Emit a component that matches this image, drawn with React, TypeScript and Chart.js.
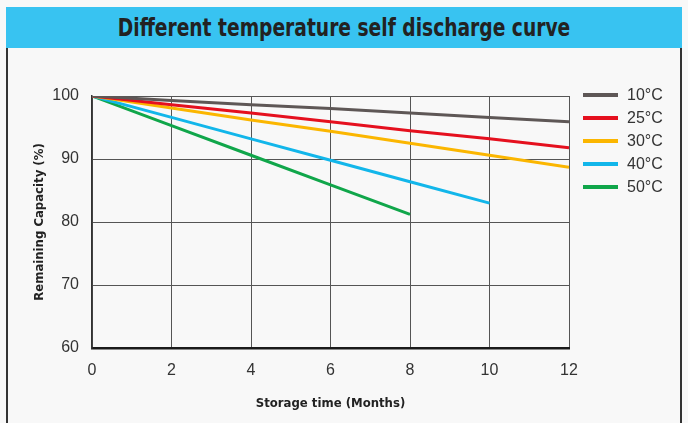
import React, { useEffect, useRef } from "react";
import { Chart, registerables } from "chart.js";

Chart.register(...registerables);

const titleText = "Different temperature self discharge curve";
const xTitle = "Storage time (Months)";
const yTitle = "Remaining Capacity (%)";

const months = [0, 2, 4, 6, 8, 10, 12];
const labels = ["10°C", "25°C", "30°C", "40°C", "50°C"];
const s10 = [100, 99.3, 98.6, 98.0, 97.3, 96.6, 95.9];
const s25 = [100, 98.6, 97.3, 95.9, 94.5, 93.2, 91.8];
const s30 = [100, 98.1, 96.2, 94.4, 92.5, 90.6, 88.7];
const s40 = [100, 96.6, 93.2, 89.8, 86.4, 83.0];
const s50 = [100, 95.3, 90.6, 85.9, 81.2];
const colors = ["#5e5756", "#e5101e", "#fbb600", "#12b6ea", "#10a64a"];
const seriesList = [s10, s25, s30, s40, s50];

const W = 688;
const H = 423;
const condensed = "'Liberation Sans Narrow', 'DejaVu Sans Condensed', sans-serif";

export default function App() {
  const ref = useRef<HTMLCanvasElement | null>(null);

  useEffect(() => {
    if (!ref.current) return;
    const chart = new Chart(ref.current, {
      type: "line",
      data: {
        datasets: seriesList.map((s, i) => ({
          label: labels[i],
          data: s.map((v, j) => ({ x: months[j], y: v })),
          borderColor: colors[i],
          backgroundColor: colors[i],
          borderWidth: 3,
          pointRadius: 0,
          tension: 0,
          fill: false,
        })),
      },
      options: {
        animation: false,
        responsive: false,
        devicePixelRatio: 1,
        layout: { padding: { top: 96, right: W - 569, left: 0, bottom: 0 } },
        plugins: { legend: { display: false }, tooltip: { enabled: false } },
        scales: {
          x: {
            type: "linear",
            min: 0,
            max: 12,
            ticks: {
              stepSize: 2,
              padding: 13,
              color: "#333",
              font: { family: "'Liberation Sans', Arial, sans-serif", size: 16 },
            },
            grid: { color: "#555", lineWidth: 1, drawTicks: false },
            border: { color: "#1a1a1a", width: 2.5 },
            title: {
              display: true,
              text: xTitle,
              color: "#222",
              padding: { top: 0, bottom: 12 },
              font: { family: condensed, size: 13, weight: "bold" },
            },
            afterFit: (scale: any) => {
              scale.height = H - 348;
            },
          },
          y: {
            min: 60,
            max: 100,
            ticks: {
              stepSize: 10,
              padding: 13,
              color: "#333",
              font: { family: "'Liberation Sans', Arial, sans-serif", size: 16 },
            },
            grid: { color: "#555", lineWidth: 1, drawTicks: false },
            border: { color: "#333", width: 1.5 },
            title: {
              display: true,
              text: yTitle,
              color: "#222",
              padding: { top: 32, bottom: 0 },
              font: { family: condensed, size: 13, weight: "bold" },
            },
            afterFit: (scale: any) => {
              scale.width = 92;
            },
          },
        },
      },
    });
    return () => chart.destroy();
  }, []);

  return (
    <div
      style={{
        position: "absolute",
        left: 0,
        top: 0,
        width: W,
        height: H,
        background: "#f8f8f8",
        overflow: "hidden",
        fontFamily: "'Liberation Sans', Arial, sans-serif",
      }}
    >
      <div
        style={{
          position: "absolute",
          left: 6,
          top: 7,
          width: 676,
          height: 41,
          background: "#38c3f1",
        }}
      >
        <div
          style={{
            position: "absolute",
            left: 0,
            top: 0,
            width: 676,
            textAlign: "center",
            lineHeight: "42px",
            fontSize: 25,
            fontWeight: "bold",
            color: "#222",
            fontFamily: condensed,
            transform: "scaleX(0.83)",
            transformOrigin: "338px 50%",
            whiteSpace: "nowrap",
          }}
        >
          {titleText}
        </div>
      </div>
      <div style={{ position: "absolute", left: 6, top: 48, width: 2, height: H - 48, background: "#333" }} />
      <div style={{ position: "absolute", left: 680, top: 48, width: 2, height: H - 48, background: "#333" }} />
      <canvas ref={ref} width={W} height={H} style={{ position: "absolute", left: 0, top: 0 }} />
      {labels.map((l, i) => (
        <div key={l} style={{ position: "absolute", left: 583, top: 95 + i * 23 - 10, height: 20, width: 100 }}>
          <div style={{ position: "absolute", left: 0, top: 8, width: 35, height: 4, background: colors[i] }} />
          <div style={{ position: "absolute", left: 44, top: 0, lineHeight: "20px", fontSize: 16, color: "#333" }}>{l}</div>
        </div>
      ))}
    </div>
  );
}
